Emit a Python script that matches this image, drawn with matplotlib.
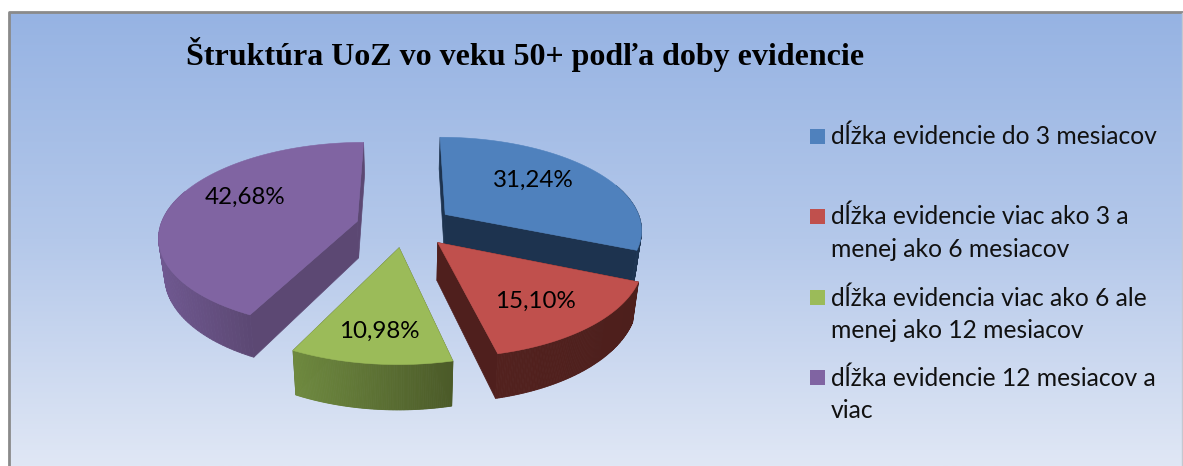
import numpy as np
import matplotlib
matplotlib.use('Agg')
import matplotlib.pyplot as plt
from matplotlib.colors import LinearSegmentedColormap, to_rgb

W, H = 1183, 466

title = 'Štruktúra UoZ vo veku 50+ podľa doby evidencie'
categories = ['dĺžka evidencie do 3 mesiacov',
              'dĺžka evidencie viac ako 3 a\nmenej ako 6 mesiacov',
              'dĺžka evidencia viac ako 6 ale\nmenej ako 12 mesiacov',
              'dĺžka evidencie 12 mesiacov a\nviac']
values = [31.24, 15.10, 10.98, 42.68]

top_colors = ['#4f81bd', '#c0504d', '#9bbb59', '#8064a2']
cut_colors = ['#1d334f', '#4f1f1d', '#4f5e2c', '#5c4873']
arc_left = ['#2a4668', '#52211e', '#6f8a40', '#6f5890']
arc_right = ['#1d334f', '#4d1f1c', '#4b5a28', '#5c4873']

# pie geometry in pixels
CX, CY = 405, 226
RX, RY = 197, 92
EXPLODE_X, EXPLODE_Y = 0.25, 0.23
PERSP = 0.15
DEPTH = 37
BOTTOM_SHRINK = 0.975
label_pos = [(533, 180), (535, 301), (379, 331), (245, 197)]
legend_y = [136.5, 216.5, 297.5, 377.5]


def project(wx, wy, lower=False):
    scale = 1 / (1 + PERSP * wy)
    x = RX * wx * scale
    y = RY * wy * scale
    if lower:
        return CX + x * BOTTOM_SHRINK, CY - y + DEPTH * scale
    return CX + x, CY - y


def wedge_side(ax, wx, wy, c1, c2, z):
    # arc side as thin quads so it can fade from c1 to c2
    x_up, y_up = project(wx, wy)
    x_lo, y_lo = project(wx, wy, lower=True)
    c1 = np.array(to_rgb(c1))
    c2 = np.array(to_rgb(c2))
    x0, x1 = x_up.min(), x_up.max()
    for i in range(len(wx) - 1):
        t = (0.5 * (x_up[i] + x_up[i + 1]) - x0) / max(x1 - x0, 1)
        ax.fill([x_up[i], x_up[i + 1], x_lo[i + 1], x_lo[i]],
                [y_up[i], y_up[i + 1], y_lo[i + 1], y_lo[i]],
                color=c1 + (c2 - c1) * t, lw=0.6, zorder=z)


def draw_slice(ax, start, end, idx, z):
    mid = np.radians((start + end) / 2)
    ox, oy = EXPLODE_X * np.cos(mid), EXPLODE_Y * np.sin(mid)
    th = np.radians(np.linspace(start, end, 120))
    wx, wy = ox + np.cos(th), oy + np.sin(th)

    # flat cut faces first, then outer side, then the top
    for ex, ey in [(wx[0], wy[0]), (wx[-1], wy[-1])]:
        xs = np.array([ox, ex])
        ys = np.array([oy, ey])
        xu, yu = project(xs, ys)
        xl, yl = project(xs, ys, lower=True)
        ax.fill([xu[0], xu[1], xl[1], xl[0]], [yu[0], yu[1], yl[1], yl[0]],
                color=cut_colors[idx], lw=0.5, zorder=z)

    front = wy < oy + 0.35
    wedge_side(ax, wx[front], wy[front], arc_left[idx], arc_right[idx], z + 0.1)

    x_top, y_top = project(np.r_[ox, wx], np.r_[oy, wy])
    ax.fill(x_top, y_top, color=top_colors[idx], lw=0.4, zorder=z + 0.2)


fig = plt.figure(figsize=(W / 100, H / 100), dpi=100)
ax = fig.add_axes([0, 0, 1, 1])

# chart area with vertical gradient
bg = LinearSegmentedColormap.from_list('bg', ['#96b3e3', '#b4c8ea', '#e0e7f5'])
grad = np.linspace(0, 1, 256).reshape(-1, 1)
ax.imshow(grad, cmap=bg, extent=(9, 1182, 466, 12), aspect='auto', zorder=0)
ax.plot([9, 9, W], [H, 12, 12], color='#8a8a8a', lw=2, zorder=1)
ax.plot([1182, 1182], [13, H], color='#c4c8d0', lw=1, zorder=1)
ax.set_xlim(0, W)
ax.set_ylim(H, 0)
ax.axis('off')

fracs = np.array(values) / np.sum(values)
bounds = 90 - 360 * np.r_[0, np.cumsum(fracs)]

# back slices first
for z, idx in zip([2, 3, 5, 4], range(4)):
    draw_slice(ax, bounds[idx], bounds[idx + 1], idx, z)

for val, (px, py) in zip(values, label_pos):
    ax.text(px, py, f'{val:.2f}%'.replace('.', ','), ha='center', va='center',
            fontsize=17.4, family='Lato', color='black', zorder=10)

ax.text(525, 54, title, ha='center', va='center', fontsize=23,
        family='Liberation Serif', weight='bold', color='black', zorder=10)

for name, col, ly in zip(categories, top_colors, legend_y):
    ax.fill([810, 825, 825, 810], [ly - 7.5, ly - 7.5, ly + 7.5, ly + 7.5],
            color=col, lw=0, zorder=10)
    ax.text(831, ly - 11.5, name, ha='left', va='top', fontsize=17.75,
            family='Lato', color='#111111', linespacing=1.5, zorder=10)

fig.savefig('out.png', dpi=100)
